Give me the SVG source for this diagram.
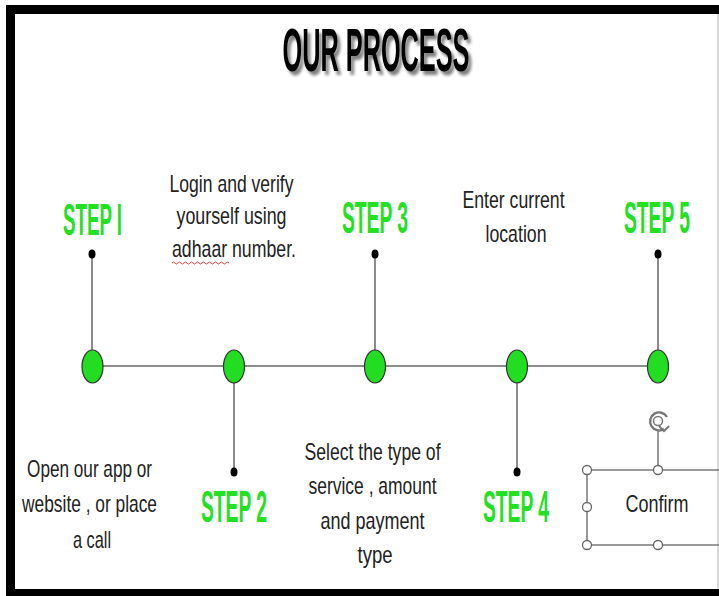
<svg xmlns="http://www.w3.org/2000/svg" width="719" height="596" viewBox="0 0 719 596">
  <defs>
    <filter id="shadow" x="-20%" y="-40%" width="150%" height="200%">
      <feGaussianBlur in="SourceAlpha" stdDeviation="1.5"/>
      <feOffset dx="3" dy="4" result="b"/>
      <feComponentTransfer><feFuncA type="linear" slope="0.5"/></feComponentTransfer>
      <feMerge><feMergeNode/><feMergeNode in="SourceGraphic"/></feMerge>
    </filter>
  </defs>
  <style>
    .title { font-family: "Liberation Sans", Arial, sans-serif; font-weight: bold; font-size: 61px; fill: #000; }
    .step { font-family: "Liberation Sans", Arial, sans-serif; font-weight: bold; font-size: 44px; fill: #22e022; }
    .body { font-family: "Liberation Sans", Arial, sans-serif; font-size: 23px; fill: #222; }
    .conn { stroke: #666; stroke-width: 1.5; fill: none; }
    .node { fill: #22dd22; stroke: #333; stroke-width: 1.2; }
    .dot { fill: #000; }
    .sel { stroke: #777; stroke-width: 1.5; fill: none; }
    .handle { fill: #fff; stroke: #666; stroke-width: 1.3; }
  </style>
  <rect width="719" height="596" fill="#fff"/>
  <g id="frame">
    <rect x="6" y="5" width="713" height="9" fill="#000"/>
    <rect x="6" y="5" width="9" height="591" fill="#000"/>
    <rect x="6" y="589" width="713" height="7" fill="#000"/>
    <line x1="718" y1="14" x2="718" y2="589" stroke="#ccc" stroke-width="1.5"/>
  </g>
  <g id="title" filter="url(#shadow)">
    <text class="title" x="376" y="71" text-anchor="middle" transform="translate(376,0) scale(0.415,1) translate(-376,0)" textLength="450.6" lengthAdjust="spacingAndGlyphs">OUR PROCESS</text>
  </g>
  <g id="connectors">
    <line class="conn" x1="92" y1="366" x2="658" y2="366"/>
    <line class="conn" x1="92" y1="254" x2="92" y2="350"/>
    <line class="conn" x1="234" y1="383" x2="234" y2="472"/>
    <line class="conn" x1="375" y1="254" x2="375" y2="350"/>
    <line class="conn" x1="517" y1="383" x2="517" y2="472"/>
    <line class="conn" x1="658" y1="254" x2="658" y2="350"/>
    <ellipse class="dot" cx="92" cy="254" rx="3.5" ry="4.5"/>
    <ellipse class="dot" cx="234" cy="472" rx="3.5" ry="4.5"/>
    <ellipse class="dot" cx="375" cy="254" rx="3.5" ry="4.5"/>
    <ellipse class="dot" cx="517" cy="472" rx="3.5" ry="4.5"/>
    <ellipse class="dot" cx="658" cy="254" rx="3.5" ry="4.5"/>
  </g>
  <g id="step1">
    <ellipse class="node" cx="92.5" cy="366.5" rx="10.5" ry="16.5"/>
    <text class="step" x="92.5" y="235" text-anchor="middle" transform="translate(92.5,0) scale(0.45,1) translate(-92.5,0)" textLength="131.1" lengthAdjust="spacingAndGlyphs">STEP I</text>
    <text class="body" text-anchor="middle" transform="translate(92,0) scale(0.77,1) translate(-92,0)">
      <tspan x="92" y="477" textLength="162.3" lengthAdjust="spacingAndGlyphs">Open our app or</tspan>
      <tspan x="92" y="512" textLength="175.3" lengthAdjust="spacingAndGlyphs">website , or place</tspan>
      <tspan x="92" y="548" textLength="49.4" lengthAdjust="spacingAndGlyphs">a call</tspan>
    </text>
  </g>
  <g id="step2">
    <ellipse class="node" cx="234" cy="366.5" rx="10.5" ry="16.5"/>
    <text class="step" x="234" y="522" text-anchor="middle" transform="translate(234,0) scale(0.45,1) translate(-234,0)" textLength="146.7" lengthAdjust="spacingAndGlyphs">STEP 2</text>
    <text class="body" text-anchor="middle" transform="translate(234,0) scale(0.77,1) translate(-234,0)">
      <tspan x="234" y="192" textLength="161" lengthAdjust="spacingAndGlyphs">Login and verify</tspan>
      <tspan x="234" y="224" textLength="142.9" lengthAdjust="spacingAndGlyphs">yourself using</tspan>
      <tspan x="234" y="257" textLength="161" lengthAdjust="spacingAndGlyphs">adhaar number.</tspan>
    </text>
    <path d="M172 263 q1.5 -2 3 0 t3 0 t3 0 t3 0 t3 0 t3 0 t3 0 t3 0 t3 0 t3 0 t3 0 t3 0 t3 0 t3 0 t3 0 t3 0 t3 0 t3 0 t3 0" fill="none" stroke="#e04040" stroke-width="1"/>
  </g>
  <g id="step3">
    <ellipse class="node" cx="375" cy="366.5" rx="10.5" ry="16.5"/>
    <text class="step" x="375" y="233" text-anchor="middle" transform="translate(375,0) scale(0.45,1) translate(-375,0)" textLength="146.7" lengthAdjust="spacingAndGlyphs">STEP 3</text>
    <text class="body" text-anchor="middle" transform="translate(375,0) scale(0.77,1) translate(-375,0)">
      <tspan x="375" y="460" textLength="176.6" lengthAdjust="spacingAndGlyphs">Select the type of</tspan>
      <tspan x="375" y="494" textLength="166.2" lengthAdjust="spacingAndGlyphs">service , amount</tspan>
      <tspan x="375" y="529" textLength="135.1" lengthAdjust="spacingAndGlyphs">and payment</tspan>
      <tspan x="375" y="563" textLength="45.5" lengthAdjust="spacingAndGlyphs">type</tspan>
    </text>
  </g>
  <g id="step4">
    <ellipse class="node" cx="517" cy="366.5" rx="10.5" ry="16.5"/>
    <text class="step" x="516" y="522" text-anchor="middle" transform="translate(516,0) scale(0.45,1) translate(-516,0)" textLength="146.7" lengthAdjust="spacingAndGlyphs">STEP 4</text>
    <text class="body" text-anchor="middle" transform="translate(516,0) scale(0.77,1) translate(-516,0)">
      <tspan x="516" y="208" textLength="132.5" lengthAdjust="spacingAndGlyphs">Enter current</tspan>
      <tspan x="516" y="242" textLength="79.2" lengthAdjust="spacingAndGlyphs">location</tspan>
    </text>
  </g>
  <g id="step5">
    <ellipse class="node" cx="658" cy="366.5" rx="10.5" ry="16.5"/>
    <text class="step" x="657" y="233" text-anchor="middle" transform="translate(657,0) scale(0.45,1) translate(-657,0)" textLength="146.7" lengthAdjust="spacingAndGlyphs">STEP 5</text>
  </g>
  <g id="confirm">
    <line class="sel" x1="587" y1="470" x2="719" y2="470"/>
    <line class="sel" x1="587" y1="545" x2="719" y2="545"/>
    <line class="sel" x1="587" y1="470" x2="587" y2="545"/>
    <line class="sel" x1="658" y1="431" x2="658" y2="466"/>
    <circle class="handle" cx="587" cy="470" r="4.5"/>
    <circle class="handle" cx="658" cy="470" r="4.5"/>
    <circle class="handle" cx="587" cy="507" r="4.5"/>
    <circle class="handle" cx="587" cy="545" r="4.5"/>
    <circle class="handle" cx="658" cy="545" r="4.5"/>
    <path d="M667 417 A9 9 0 1 0 664 429" fill="none" stroke="#777" stroke-width="2.4"/>
    <path d="M659 426 l5 5 l5 -5" fill="none" stroke="#777" stroke-width="2"/>
    <circle cx="658" cy="421" r="4.5" fill="none" stroke="#777" stroke-width="1.5"/>
    <text class="body" x="657" y="512" text-anchor="middle" transform="translate(657,0) scale(0.77,1) translate(-657,0)" textLength="81.8" lengthAdjust="spacingAndGlyphs">Confirm</text>
  </g>
</svg>
